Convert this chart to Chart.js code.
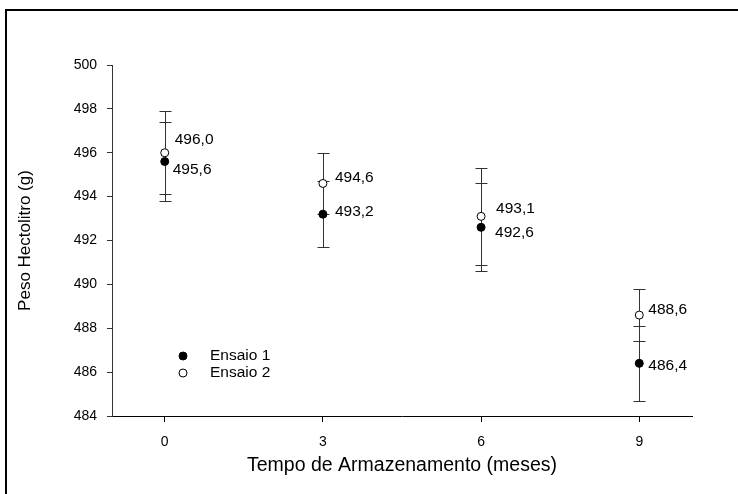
<!DOCTYPE html>
<html><head><meta charset="utf-8">
<script src="https://cdn.jsdelivr.net/npm/chart.js@4"></script>
<style>html,body{margin:0;padding:0;background:#fff}#wrap{width:738px;height:494px;position:relative}</style>
</head><body><div id="wrap"><canvas id="c"></canvas></div>
<script>
// ---- data ----
const months = [0, 3, 6, 9];
const xTickLabels = ['0', '3', '6', '9'];
const seriesNames = ['Ensaio 1', 'Ensaio 2'];
const ensaio1 = [495.6, 493.2, 492.6, 486.4];
const ensaio1Err = [1.8, 1.5, 2.0, 1.7];
const ensaio2 = [496.0, 494.6, 493.1, 488.6];
const ensaio2Err = [1.9, 1.4, 2.2, 1.2];
const xTitle = 'Tempo de Armazenamento (meses)';
const yTitle = 'Peso Hectolitro (g)';

// ---- styling (label offsets in px) ----
const labelDx = [[8, 12, 14, 9], [10, 12, 15, 9]];
const labelDy = [[8, -2, 5, 2], [-13, -6, -8, -5]];
const FONT = 'Arial, "Liberation Sans", sans-serif';

const fmt = v => v.toFixed(1).replace('.', ',');

const errorBars = {
  id: 'errorBars',
  beforeDatasetsDraw(chart) {
    const ctx = chart.ctx, ys = chart.scales.y;
    ctx.save();
    ctx.strokeStyle = '#333';
    ctx.lineWidth = 1;
    chart.data.datasets.forEach((ds, di) => {
      const meta = chart.getDatasetMeta(di);
      ds.err.forEach((e, i) => {
        const p = meta.data[i];
        const x = Math.round(p.x) + 0.5;
        const yt = Math.round(ys.getPixelForValue(ds.data[i].y + e)) + 0.5;
        const yb = Math.round(ys.getPixelForValue(ds.data[i].y - e)) + 0.5;
        ctx.beginPath();
        ctx.moveTo(x, yt); ctx.lineTo(x, yb);
        ctx.moveTo(x - 6, yt); ctx.lineTo(x + 6, yt);
        ctx.moveTo(x - 6, yb); ctx.lineTo(x + 6, yb);
        ctx.stroke();
      });
    });
    ctx.restore();
  },
  afterDatasetsDraw(chart) {
    const ctx = chart.ctx;
    ctx.save();
    ctx.font = '15.5px ' + FONT;
    ctx.fillStyle = '#000';
    ctx.textAlign = 'left';
    ctx.textBaseline = 'middle';
    chart.data.datasets.forEach((ds, di) => {
      const meta = chart.getDatasetMeta(di);
      ds.data.forEach((d, i) => {
        const p = meta.data[i];
        ctx.fillText(fmt(d.y), p.x + labelDx[di][i], p.y + labelDy[di][i]);
      });
    });
    // legend
    const a = chart.chartArea;
    const lx = a.left + 71, ly = a.top + 291;
    chart.data.datasets.forEach((ds, di) => {
      const y = ly + di * 17;
      ctx.beginPath();
      ctx.arc(lx, y, 4, 0, Math.PI * 2);
      ctx.fillStyle = ds.pointBackgroundColor;
      ctx.fill();
      ctx.strokeStyle = '#000';
      ctx.lineWidth = 1;
      ctx.stroke();
      ctx.fillStyle = '#000';
      ctx.fillText(ds.label, lx + 27, y);
    });
    ctx.restore();
  }
};

const frame = {
  id: 'frame',
  beforeDraw(chart) {
    const ctx = chart.ctx;
    ctx.save();
    ctx.fillStyle = '#fff';
    ctx.fillRect(0, 0, chart.width, chart.height);
    ctx.strokeStyle = '#000';
    ctx.lineWidth = 2;
    ctx.beginPath();
    ctx.moveTo(6, chart.height);
    ctx.lineTo(6, 10);
    ctx.lineTo(chart.width, 10);
    ctx.stroke();
    ctx.restore();
  }
};

const mk = (vals) => months.map((m, i) => ({x: m, y: vals[i]}));

new Chart(document.getElementById('c'), {
  type: 'scatter',
  data: {
    datasets: [
      {label: seriesNames[0], data: mk(ensaio1), err: ensaio1Err,
       pointRadius: 4, pointHoverRadius: 4, pointBackgroundColor: '#000', pointBorderColor: '#000', pointBorderWidth: 1},
      {label: seriesNames[1], data: mk(ensaio2), err: ensaio2Err,
       pointRadius: 4, pointHoverRadius: 4, pointBackgroundColor: '#fff', pointBorderColor: '#000', pointBorderWidth: 1}
    ]
  },
  options: {
    responsive: true,
    maintainAspectRatio: false,
    animation: false,
    events: [],
    layout: {padding: {top: 65, right: 46, left: 0, bottom: 0}},
    plugins: {legend: {display: false}, tooltip: {enabled: false}},
    scales: {
      x: {
        type: 'linear', min: -1, max: 10,
        afterBuildTicks: s => { s.ticks = months.map(v => ({value: v})); },
        afterFit: s => { s.height = 78; },
        ticks: {callback: v => xTickLabels[months.indexOf(v)], color: '#000', font: {size: 14, family: FONT}, padding: 12, maxRotation: 0},
        grid: {drawOnChartArea: false, drawTicks: true, tickLength: 6, color: '#000'},
        border: {color: '#000', width: 1},
        title: {display: true, text: xTitle, color: '#000', font: {size: 19.5, family: FONT}, padding: {top: 0, bottom: 17}}
      },
      y: {
        min: 484, max: 500,
        afterFit: s => { s.width = 112; },
        ticks: {stepSize: 2, color: '#000', font: {size: 14, family: FONT}, padding: 10},
        grid: {drawOnChartArea: false, drawTicks: true, tickLength: 5, color: '#333'},
        border: {color: '#333', width: 1},
        title: {display: true, text: yTitle, color: '#000', font: {size: 17, family: FONT}, padding: {top: 15, bottom: 0}}
      }
    }
  },
  plugins: [frame, errorBars]
});
</script>
</body></html>
